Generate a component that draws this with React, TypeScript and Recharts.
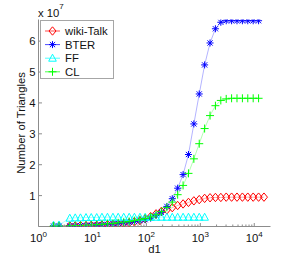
import React from 'react';
import { LineChart, Line, XAxis, YAxis, Legend } from 'recharts';

// d1 bins (log-spaced degree values)
const degrees = [1.9, 2.4, 3.8, 4.8, 6.0, 7.6, 9.5, 12, 15, 19, 24, 30, 38, 48, 60, 76, 95, 120, 151, 190, 240, 302, 380, 479, 603, 759, 955, 1202, 1514, 1905, 2399, 3020, 3802, 4786, 6026, 7586, 9550, 12023, 15136];

// Number of triangles, in units of 10^7
const wikiTalk = [0.01, 0.01, 0.02, 0.02, 0.03, 0.03, 0.04, 0.04, 0.05, 0.06, 0.07, 0.08, 0.10, 0.12, 0.15, 0.19, 0.25, 0.32, 0.41, 0.49, 0.54, 0.61, 0.68, 0.73, 0.78, 0.83, 0.87, 0.91, 0.93, 0.94, 0.94, 0.95, 0.95, 0.95, 0.95, 0.95, 0.95, 0.95, 0.95];
const bter = [0.01, 0.01, 0.02, 0.02, 0.03, 0.03, 0.04, 0.05, 0.06, 0.07, 0.09, 0.10, 0.12, 0.14, 0.16, 0.19, 0.22, 0.27, 0.36, 0.46, 0.65, 0.90, 1.24, 1.68, 2.33, 3.32, 4.29, 5.23, 5.94, 6.40, 6.61, 6.66, 6.66, 6.66, 6.66, 6.66, 6.66, 6.66, null];
const ff = [0.04, 0.05, 0.27, 0.28, 0.28, 0.29, 0.29, 0.29, 0.30, 0.30, 0.30, 0.30, 0.30, 0.30, 0.30, 0.30, 0.30, 0.30, 0.30, 0.30, 0.30, 0.30, 0.30, 0.30, 0.30, 0.30, 0.30, 0.30, null, null, null, null, null, null, null, null, null, null, null];
const cl = [0.01, 0.01, 0.02, 0.03, 0.03, 0.04, 0.05, 0.06, 0.07, 0.09, 0.10, 0.12, 0.14, 0.16, 0.19, 0.22, 0.26, 0.31, 0.38, 0.48, 0.62, 0.79, 1.03, 1.33, 1.72, 2.19, 2.68, 3.17, 3.59, 3.91, 4.08, 4.13, 4.15, 4.15, 4.15, 4.15, 4.15, 4.15, null];

const xTicks = [1, 2, 3, 4, 5, 6, 7, 8, 9, 10, 20, 30, 40, 50, 60, 70, 80, 90, 100, 200, 300, 400, 500, 600, 700, 800, 900, 1000, 2000, 3000, 4000, 5000, 6000, 7000, 8000, 9000, 10000];
const yTicks = [1, 2, 3, 4, 5, 6];

const SERIES = [
  { key: 'wikiTalk', name: 'wiki-Talk', color: '#ff0000', marker: 'diamond' },
  { key: 'bter', name: 'BTER', color: '#0000ff', marker: 'star' },
  { key: 'ff', name: 'FF', color: '#00ffff', marker: 'triangle' },
  { key: 'cl', name: 'CL', color: '#00ff00', marker: 'plus' },
];

const data = degrees.map((d, i) => ({ d, wikiTalk: wikiTalk[i], bter: bter[i], ff: ff[i], cl: cl[i] }));

const FONT = '"Liberation Sans", Arial, Helvetica, sans-serif';
const FS = 11.3;
const AXIS = '#8c8c8c';
const TXT = '#111';

function Marker({ type, cx, cy, color }: { type: string; cx: number; cy: number; color: string }) {
  if (type === 'diamond') {
    return <polygon points={`${cx},${cy - 4.2} ${cx + 3.5},${cy} ${cx},${cy + 4.2} ${cx - 3.5},${cy}`} fill="none" stroke={color} strokeWidth={1} />;
  }
  if (type === 'star') {
    return (
      <g stroke={color} strokeWidth={1}>
        <line x1={cx - 3.5} y1={cy} x2={cx + 3.5} y2={cy} />
        <line x1={cx} y1={cy - 3.5} x2={cx} y2={cy + 3.5} />
        <line x1={cx - 2.6} y1={cy - 2.6} x2={cx + 2.6} y2={cy + 2.6} />
        <line x1={cx - 2.6} y1={cy + 2.6} x2={cx + 2.6} y2={cy - 2.6} />
      </g>
    );
  }
  if (type === 'triangle') {
    return <polygon points={`${cx},${cy - 4} ${cx + 3.8},${cy + 3} ${cx - 3.8},${cy + 3}`} fill="none" stroke={color} strokeWidth={1} />;
  }
  return (
    <g stroke={color} strokeWidth={1}>
      <line x1={cx - 4} y1={cy} x2={cx + 4} y2={cy} />
      <line x1={cx} y1={cy - 4} x2={cx} y2={cy + 4} />
    </g>
  );
}

const makeDot = (s: any) => (p: any) => {
  const k = `${s.key}-${p.index}`;
  if (p.cx == null || p.cy == null || p.value == null || (Array.isArray(p.value) && p.value[1] == null)) return <g key={k} />;
  return (
    <g key={k}>
      <Marker type={s.marker} cx={p.cx} cy={p.cy} color={s.color} />
    </g>
  );
};

const isMajor = (v: number) => Math.abs(Math.log10(v) - Math.round(Math.log10(v))) < 1e-9;

const BottomTick = (p: any) => {
  const v = p.payload.value;
  const major = isMajor(v);
  const len = major ? 3.5 : 2;
  const exp = Math.round(Math.log10(v));
  return (
    <g>
      <line x1={p.x} y1={p.y} x2={p.x} y2={p.y - len} stroke={AXIS} strokeWidth={1} />
      {major && (
        <text x={p.x} y={p.y + 15} textAnchor="middle" fontSize={FS} fontFamily={FONT} fill={TXT}>
          10<tspan dy={-5} fontSize={8}>{exp}</tspan>
        </text>
      )}
    </g>
  );
};

const TopTick = (p: any) => {
  const v = p.payload.value;
  const len = isMajor(v) ? 3.5 : 2;
  return <line x1={p.x} y1={p.y} x2={p.x} y2={p.y + len} stroke={AXIS} strokeWidth={1} />;
};

const LeftTick = (p: any) => (
  <g>
    <line x1={p.x} y1={p.y} x2={p.x + 3.5} y2={p.y} stroke={AXIS} strokeWidth={1} />
    <text x={p.x - 3} y={p.y + 4} textAnchor="end" fontSize={FS} fontFamily={FONT} fill={TXT}>
      {p.payload.value}
    </text>
  </g>
);

const RightTick = (p: any) => <line x1={p.x} y1={p.y} x2={p.x - 3.5} y2={p.y} stroke={AXIS} strokeWidth={1} />;

const renderLegend = () => (
  <div style={{ width: 74, height: 59, border: `1px solid #a6a6a6`, background: '#fff', boxSizing: 'border-box' }}>
    <svg width={72} height={57} style={{ display: 'block' }}>
      {SERIES.map((s, i) => {
        const y = 10 + i * 13.6;
        return (
          <g key={s.key}>
            <line x1={4} y1={y} x2={19} y2={y} stroke={s.color} strokeWidth={0.7} />
            <Marker type={s.marker} cx={11.5} cy={y} color={s.color} />
            <text x={24} y={y + 4} fontSize={FS} fontFamily={FONT} fill={TXT}>
              {s.name}
            </text>
          </g>
        );
      })}
    </svg>
  </div>
);

export default function App() {
  return (
    <div style={{ position: 'absolute', left: 0, top: 0, width: 299, height: 257, background: '#fff' }}>
      <LineChart width={299} height={257} data={data} margin={{ top: 19.5, right: 28.5, bottom: 0.5, left: 0.5 }}>
        <XAxis
          dataKey="d"
          type="number"
          scale="log"
          domain={[1, 20000]}
          allowDataOverflow
          ticks={xTicks}
          interval={0}
          height={30}
          tickSize={0}
          tickMargin={0}
          tickLine={false}
          axisLine={{ stroke: AXIS, strokeWidth: 1 }}
          tick={<BottomTick />}
          label={{
            content: (lp: any) => {
              const vb = lp.viewBox || {};
              return (
                <text x={vb.x + vb.width / 2} y={vb.y + 26.5} textAnchor="middle" fontSize={FS} fontFamily={FONT} fill={TXT}>
                  d1
                </text>
              );
            },
          }}
        />
        <XAxis
          xAxisId="top"
          dataKey="d"
          type="number"
          scale="log"
          domain={[1, 20000]}
          allowDataOverflow
          orientation="top"
          ticks={xTicks}
          interval={0}
          height={0}
          tickSize={0}
          tickMargin={0}
          tickLine={false}
          axisLine={{ stroke: AXIS, strokeWidth: 1 }}
          tick={<TopTick />}
        />
        <YAxis
          type="number"
          domain={[0, 6.7]}
          allowDataOverflow
          ticks={yTicks}
          interval={0}
          width={38}
          tickSize={0}
          tickMargin={0}
          tickLine={false}
          axisLine={{ stroke: AXIS, strokeWidth: 1 }}
          tick={<LeftTick />}
          label={{
            content: (lp: any) => {
              const vb = lp.viewBox || {};
              const cx = 21;
              const cy = vb.y + vb.height / 2;
              return (
                <text x={cx} y={cy} transform={`rotate(-90 ${cx} ${cy})`} textAnchor="middle" dominantBaseline="central" fontSize={FS} fontFamily={FONT} fill={TXT}>
                  Number of Triangles
                </text>
              );
            },
          }}
        />
        <YAxis
          yAxisId="r"
          orientation="right"
          type="number"
          domain={[0, 6.7]}
          allowDataOverflow
          ticks={yTicks}
          interval={0}
          width={0}
          tickSize={0}
          tickMargin={0}
          tickLine={false}
          axisLine={{ stroke: AXIS, strokeWidth: 1 }}
          tick={<RightTick />}
        />
        {SERIES.map((s) => (
          <Line
            key={s.key}
            dataKey={s.key}
            name={s.name}
            stroke={s.color}
            strokeWidth={0.6}
            strokeOpacity={0.5}
            dot={makeDot(s)}
            activeDot={false}
            isAnimationActive={false}
            connectNulls={false}
          />
        ))}
        <Legend
          layout="vertical"
          align="center"
          verticalAlign="middle"
          content={renderLegend}
          wrapperStyle={{ position: 'absolute', left: 40, top: 20, width: 74, height: 59 }}
        />
      </LineChart>
      <svg width={120} height={20} style={{ position: 'absolute', left: 0, top: 0, pointerEvents: 'none' }}>
        <text x={38} y={16.7} fontSize={FS} fontFamily={FONT} fill={TXT}>
          x 10<tspan dy={-7.5} fontSize={8}>7</tspan>
        </text>
      </svg>
    </div>
  );
}
